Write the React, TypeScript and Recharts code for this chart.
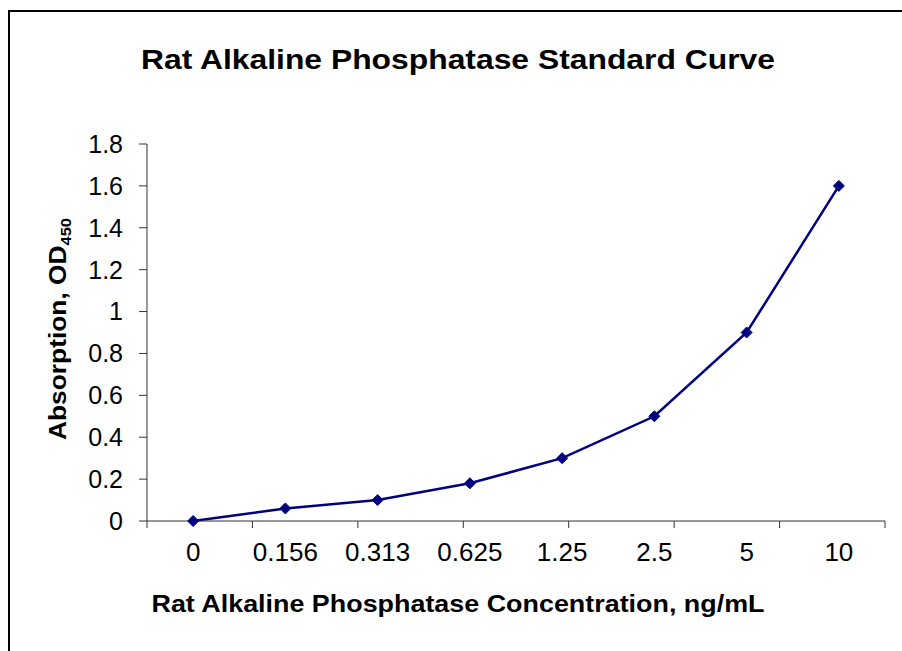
import { LineChart, Line, XAxis, YAxis } from "recharts";

// standard curve data
const concentrations = ["0", "0.156", "0.313", "0.625", "1.25", "2.5", "5", "10"];
const absorbance = [0, 0.06, 0.1, 0.18, 0.3, 0.5, 0.9, 1.6];
const yTicks = [0, 0.2, 0.4, 0.6, 0.8, 1, 1.2, 1.4, 1.6, 1.8];
const boundaryTicks = [0, 1, 2, 3, 4, 5, 6, 7, 8];

const FONT = "'Liberation Sans', Arial, sans-serif";
const NAVY = "#000080";
const AXIS = "#333333";

const chartData = concentrations.map((c, i) => ({ conc: c, od: absorbance[i] }));

const Diamond = (props: any) => {
  const { cx, cy } = props;
  if (cx == null || cy == null) return null;
  const r = 5.5;
  return (
    <path
      d={`M${cx},${cy - r}L${cx + r},${cy}L${cx},${cy + r}L${cx - r},${cy}Z`}
      fill={NAVY}
      stroke={NAVY}
    />
  );
};

export default function App() {
  return (
    <div style={{ position: "absolute", left: 0, top: 0, width: 902, height: 651, background: "#fff", overflow: "hidden" }}>
      <LineChart
        width={902}
        height={651}
        data={chartData}
        margin={{ top: 144, right: 17, left: 87, bottom: 100 }}
      >
        {/* axis line + tick marks between categories */}
        <XAxis
          xAxisId="a"
          type="number"
          domain={[0, 8]}
          ticks={boundaryTicks}
          height={1}
          stroke={AXIS}
          tickSize={7}
          tick={() => <g />}
        />
        {/* category labels */}
        <XAxis
          xAxisId="b"
          dataKey="conc"
          scale="band"
          height={29}
          axisLine={false}
          tickLine={false}
          tickSize={6}
          tickMargin={15}
          interval={0}
          tick={{ fill: "#000", fontSize: 26, fontFamily: FONT }}
        />
        <YAxis
          domain={[0, 1.8]}
          ticks={yTicks}
          width={60}
          stroke={AXIS}
          tickSize={8}
          tickMargin={16}
          interval={0}
          tick={{ fill: "#000", fontSize: 25, fontFamily: FONT }}
        />
        <Line
          xAxisId="b"
          dataKey="od"
          stroke={NAVY}
          strokeWidth={2.5}
          dot={<Diamond />}
          activeDot={false}
          isAnimationActive={false}
        />
      </LineChart>
      <svg
        width={902}
        height={651}
        style={{ position: "absolute", left: 0, top: 0, pointerEvents: "none" }}
      >
        <path d="M9,651V11H902" fill="none" stroke="#000" strokeWidth={2} />
        <text
          x={458}
          y={69}
          textAnchor="middle"
          fontFamily={FONT}
          fontWeight="bold"
          fontSize={28}
          textLength={634}
          lengthAdjust="spacingAndGlyphs"
          fill="#000"
        >
          Rat Alkaline Phosphatase Standard Curve
        </text>
        <text
          x={458}
          y={612}
          textAnchor="middle"
          fontFamily={FONT}
          fontWeight="bold"
          fontSize={24}
          textLength={613}
          lengthAdjust="spacingAndGlyphs"
          fill="#000"
        >
          Rat Alkaline Phosphatase Concentration, ng/mL
        </text>
        <text
          transform="translate(66,329) rotate(-90)"
          textAnchor="middle"
          fontFamily={FONT}
          fontWeight="bold"
          fontSize={24}
          textLength={222}
          lengthAdjust="spacingAndGlyphs"
          fill="#000"
        >
          Absorption, OD
          <tspan fontSize={15} dy={5}>450</tspan>
        </text>
      </svg>
    </div>
  );
}
